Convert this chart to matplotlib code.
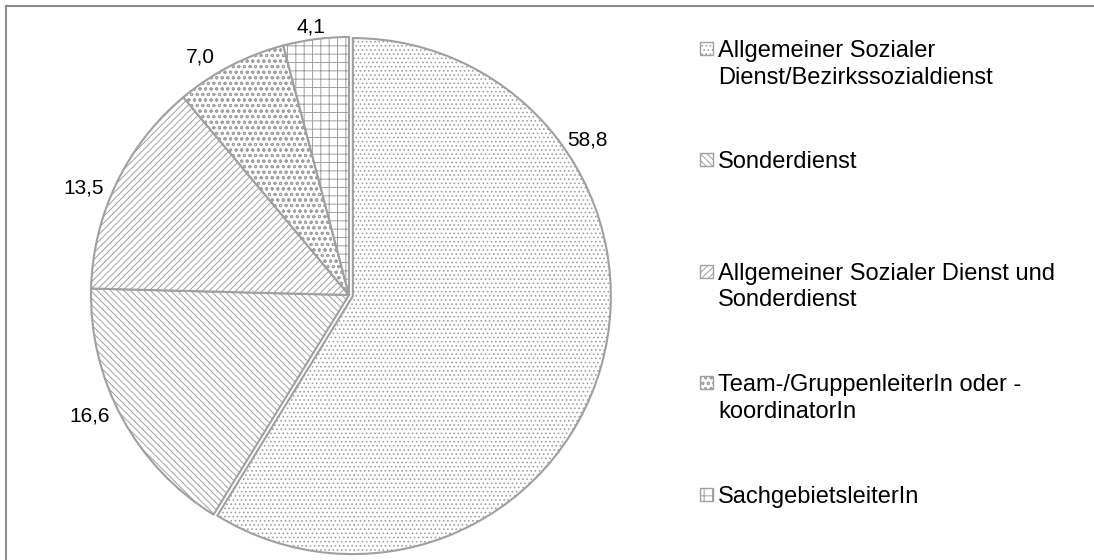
import numpy as np
import matplotlib
matplotlib.use("Agg")
import matplotlib.pyplot as plt
from matplotlib.patches import Rectangle
from matplotlib.lines import Line2D

# === Daten ===
categories = [
    "Allgemeiner Sozialer\nDienst/Bezirkssozialdienst",
    "Sonderdienst",
    "Allgemeiner Sozialer Dienst und\nSonderdienst",
    "Team-/GruppenleiterIn oder -\nkoordinatorIn",
    "SachgebietsleiterIn",
]
values = [58.8, 16.6, 13.5, 7.0, 4.1]
value_labels = ["58,8", "16,6", "13,5", "7,0", "4,1"]

# === Layout (Pixelkoordinaten, y nach oben) ===
W, H = 1094, 560
CX, CY, R = 349, 265, 258
hatches = ["....", "\\\\\\\\\\", "/////", "ooo", "++"]
label_angles = [33, 205, 158, 122, 98]
label_dist = [1.10, 1.11, 1.11, 1.09, 1.05]
legend_baselines = [57, 168, 280, 391, 503]
EDGE = "#A0A0A0"

plt.rcParams["font.family"] = ["Liberation Sans", "DejaVu Sans"]
plt.rcParams["hatch.linewidth"] = 0.7

fig = plt.figure(figsize=(W / 100, H / 100), dpi=100)
ax = fig.add_axes([0, 0, 1, 1])

wedges, _ = ax.pie(values, startangle=90, counterclock=False,
                   center=(CX, CY), radius=R, explode=[4, 0, 0, 0, 0],
                   wedgeprops={"facecolor": "white", "edgecolor": EDGE, "linewidth": 1.5})
for w, h in zip(wedges, hatches):
    w.set_hatch(h)

ax.set_xlim(0, W)
ax.set_ylim(0, H)
ax.set_aspect("equal")
ax.axis("off")

# === Datenbeschriftungen ===
for txt, ang, d in zip(value_labels, label_angles, label_dist):
    a = np.deg2rad(ang)
    ax.text(CX + d * R * np.cos(a), CY + d * R * np.sin(a), txt,
            fontsize=15, ha="center", va="center", color="black")

# === Legende (manuell) ===
for cat, h, base in zip(categories, hatches, legend_baselines):
    yb = H - base
    ax.add_patch(Rectangle((700, yb + 2), 13, 13, facecolor="white",
                           edgecolor=EDGE, linewidth=1, hatch=h))
    for i, line in enumerate(cat.split("\n")):
        ax.text(718, yb - i * 26.5, line, fontsize=17, ha="left",
                va="baseline", color="black")

# === Rahmen (links und oben) ===
fig.add_artist(Line2D([6 / W, 6 / W], [0, 1 - 6 / H], transform=fig.transFigure,
                      color="#8C8C8C", lw=1.5))
fig.add_artist(Line2D([6 / W, 1], [1 - 6 / H, 1 - 6 / H], transform=fig.transFigure,
                      color="#8C8C8C", lw=1.5))

fig.savefig("out.png", dpi=100)
